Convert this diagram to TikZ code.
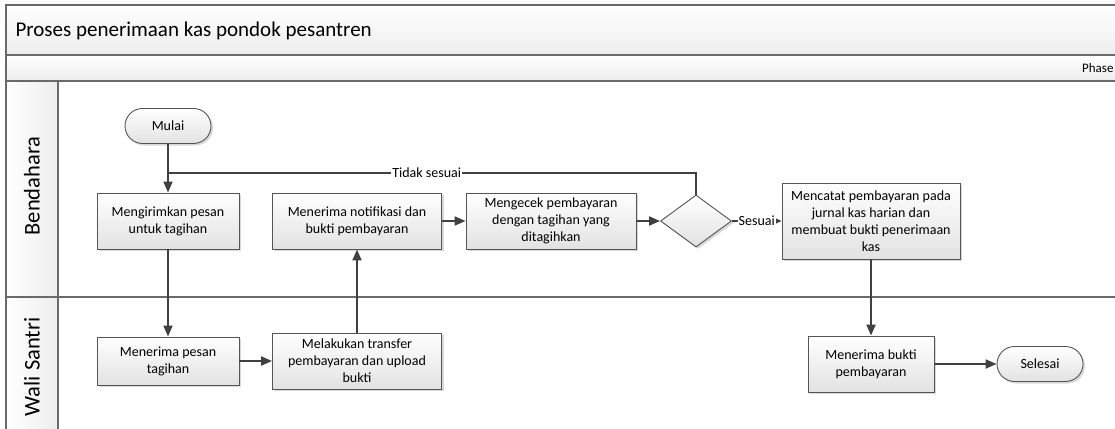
\documentclass[tikz,border=0pt]{standalone}
\usepackage{fontspec}
\setmainfont{Carlito}
\usetikzlibrary{arrows.meta,shapes.geometric,shadows}

\definecolor{garis}{HTML}{404040}
\definecolor{tepi}{HTML}{555555}
\definecolor{bingkai}{HTML}{6A6A6A}
\definecolor{isian}{HTML}{E2E2E2}
\definecolor{pita}{HTML}{EDEDED}

\tikzset{
	bayang/.style = {drop shadow = {shadow xshift = 2pt, shadow yshift = -2pt, fill = black!30, opacity = 0.5}},
	proses/.style = {draw = tepi, line width = 0.9pt, top color = white, bottom color = isian, bayang,
		minimum width = #1, minimum height = 56pt, inner sep = 0pt, align = center,
		font = \fontsize{14}{17}\selectfont},
	terminal/.style = {draw = tepi, line width = 0.9pt, top color = white, bottom color = isian, bayang,
		rounded corners = 17.5pt, minimum width = 86pt, minimum height = 35pt,
		font = \fontsize{14}{17}\selectfont},
	keputusan/.style = {diamond, draw = tepi, line width = 0.9pt, top color = white, bottom color = isian, bayang,
		minimum width = 71pt, minimum height = 52pt, inner sep = 0pt},
	alur/.style = {draw = garis, line width = 2pt},
	panah/.style = {alur, -{Triangle[length = 11pt, width = 9pt]}},
	ket/.style = {fill = white, inner sep = 1pt, font = \fontsize{14}{17}\selectfont},
	lajur/.style = {rotate = 90, font = \fontsize{22.5}{27}\selectfont}
}

\begin{document}
\begin{tikzpicture}[x = 1pt, y = -1pt]%swimlane kas
	\useasboundingbox (0,0) rectangle (1115,428);
	\clip (0,0) rectangle (1115,428);
	\path[top color = white, bottom color = pita] (6,5) rectangle (1135,55);
	\path[top color = white, bottom color = pita] (6,55) rectangle (1135,81);
	\path[left color = white, right color = pita] (6,81) rectangle (58,440);
	\draw[bingkai, line width = 1.5pt]
	(6,440) -- (6,5) -- (1135,5)
	(6,55) -- (1135,55)
	(6,81) -- (1135,81)
	(58,81) -- (58,440)
	(6,297) -- (1135,297);
	\node[anchor = west, font = \fontsize{21}{25}\selectfont] (judul) at (12,31) {Proses penerimaan kas pondok pesantren};
	\node[anchor = east, font = \fontsize{13}{16}\selectfont] (fase) at (1117,68) {Phase};
	\node[lajur] (bendahara) at (32,186) {Bendahara};
	\node[lajur] (wali) at (32,367) {Wali Santri};

	\node[terminal] (mulai) at (168,126) {Mulai};
	\node[proses = 142pt] (kirim) at (168,221) {Mengirimkan pesan\\untuk tagihan};
	\node[proses = 169pt] (notif) at (357,221) {Menerima notifikasi dan\\bukti pembayaran};
	\node[proses = 170pt] (cek) at (551,221) {Mengecek pembayaran\\dengan tagihan yang\\ditagihkan};
	\node[keputusan] (cocok) at (696,221) {};
	\node[proses = 178pt, minimum height = 76pt] (catat) at (871,221) {Mencatat pembayaran pada\\jurnal kas harian dan\\membuat bukti penerimaan\\kas};
	\node[proses = 142pt, minimum height = 48pt] (terima) at (168,361) {Menerima pesan\\tagihan};
	\node[proses = 169pt] (transfer) at (357,361) {Melakukan transfer\\pembayaran dan upload\\bukti};
	\node[proses = 126pt] (bukti) at (871,364) {Menerima bukti\\pembayaran};
	\node[terminal] (selesai) at (1040,364) {Selesai};

	\draw[panah] (mulai) -- (kirim);
	\draw[panah] (kirim) -- (terima);
	\draw[panah] (terima) -- (transfer);
	\draw[panah] (transfer) -- (notif);
	\draw[panah] (notif) -- (cek);
	\draw[panah] (cek) -- (cocok);
	\draw[panah] (catat) -- (bukti);
	\draw[panah] (bukti) -- (selesai);
	\draw[alur] (cocok.north) -- ++(0,-22) coordinate (belok) -- (belok -| kirim) node[ket, pos = 0.51] (tidak) {Tidak sesuai};
	\draw[alur, line width = 1.2pt, -{Triangle[length = 7pt, width = 6pt]}] (cocok.east) -- node[ket] (sesuai) {Sesuai} (catat.west);
\end{tikzpicture}
\end{document}
